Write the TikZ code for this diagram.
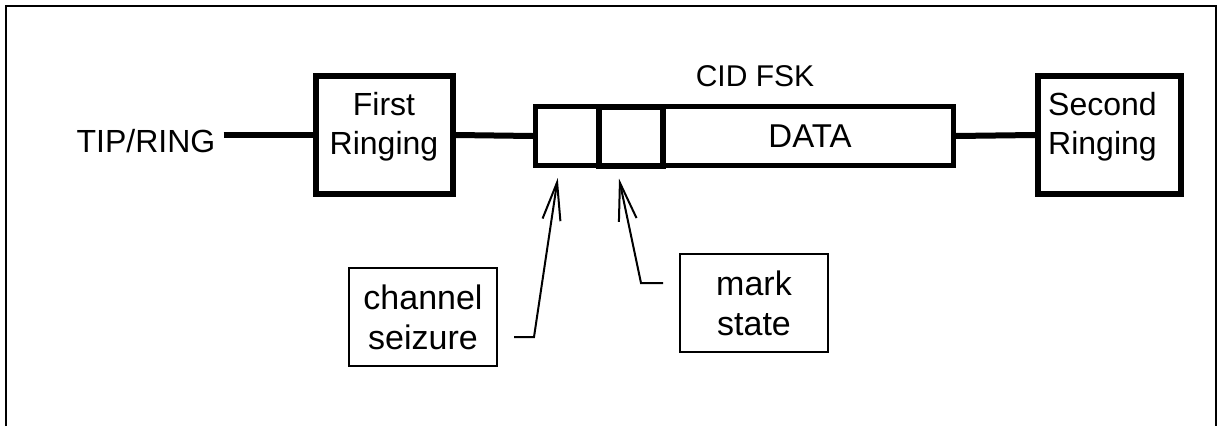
\documentclass[tikz,border=0pt]{standalone}
\usepackage{fontspec}
\setmainfont{Liberation Sans}
\usetikzlibrary{arrows.meta,calc}
\begin{document}
\begin{tikzpicture}[x=1pt,y=-1pt,
  txt/.style={font=\fontsize{32}{39.5}\selectfont, inner sep=0pt},
  bigbox/.style={draw, line width=6pt, minimum width=137pt, minimum height=118pt, inner sep=0pt},
  seg/.style={draw, line width=5pt, minimum height=59pt, inner sep=0pt},
  callout/.style={draw, line width=2pt, minimum width=148pt, minimum height=98pt, align=center, inner sep=0pt, font=\fontsize{34}{40}\selectfont},
  wire/.style={line width=6pt},
  pointer/.style={line width=2pt, -{Straight Barb[length=38pt,width=18pt,line width=2pt]}}
]
\useasboundingbox (0,0) rectangle (1218,426);
\draw[line width=2pt] (5.5,426) -- (5.5,5.5) -- (1216,5.5) -- (1216,426);

\node[txt, anchor=base] (tr) at (146,152) {TIP/RING};
\node[bigbox] (fr) at (384,135) {};
\node[txt, anchor=north, align=center] (frt) at (384,92) {First\\Ringing};

\node[seg, minimum width=63.5pt] (s1) at (567.25,136) {};
\node[seg, minimum width=290pt] (dt) at (808,136) {};
\node[seg, minimum width=64pt, line width=6pt] (s2) at (631,136) {};
\node[txt, font=\fontsize{33}{39}\selectfont] (dtt) at (810,136) {DATA};
\node[txt, font=\fontsize{30}{36}\selectfont] (cid) at (755,76) {CID FSK};

\node[bigbox, minimum width=143pt] (sr) at (1109.5,135) {};
\node[txt, anchor=north west, align=left] (srt) at (1048,92) {Second\\Ringing};

\draw[wire] ($(tr.east |- fr.west)+(8,0)$) -- (fr.west);
\draw[wire] (fr.east) -- (s1.west);
\draw[wire] (dt.east) -- (sr.west);

\node[callout] (cs) at (423,317) {channel\\seizure};
\node[callout] (ms) at (754,303) {mark\\state};

\coordinate (c1) at ($(cs.east)+(16,20)$);
\draw[pointer] (c1) -- ++(20,0) -- ($(s1.south)+(-9.5,10)$);
\coordinate (c2) at ($(ms.west)+(-16,-20)$);
\draw[pointer] (c2) -- ++(-22,0) -- ($(s2.south)+(-12,10)$);
\end{tikzpicture}
\end{document}
